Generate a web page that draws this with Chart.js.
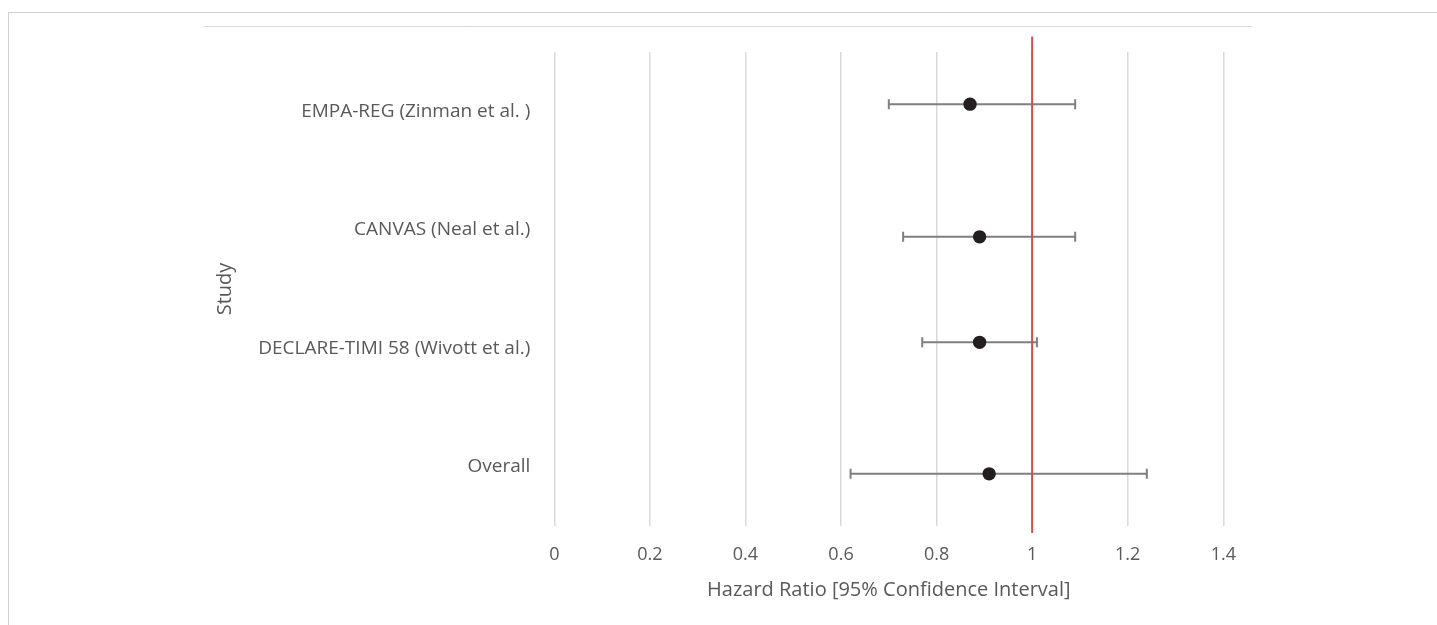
<!DOCTYPE html>
<html>
<head>
<meta charset="utf-8">
<script src="https://cdn.jsdelivr.net/npm/chart.js@4.4.1/dist/chart.umd.min.js"></script>
<style>
  html, body { margin: 0; padding: 0; background: #fff; overflow: hidden; }
  #frame {
    position: absolute; left: 8px; top: 12px;
    width: 1500px; height: 700px;
    border: 1px solid #d0d0d0;
  }
  #wrap { position: absolute; left: 0; top: 0; width: 1437px; height: 625px; }
</style>
</head>
<body>
<div id="frame"></div>
<div id="wrap"><canvas id="forestChart"></canvas></div>
<script>
const studies = ['EMPA-REG (Zinman et al. )', 'CANVAS (Neal et al.)', 'DECLARE-TIMI 58 (Wivott et al.)', 'Overall'];
const hazardRatio = [0.87, 0.89, 0.89, 0.91];
const ciLower = [0.70, 0.73, 0.77, 0.62];
const ciUpper = [1.09, 1.09, 1.01, 1.24];
const rowPos = [3.56, 2.44, 1.55, 0.44];   // vertical position on the hidden value axis
const xTicks = [0, 0.2, 0.4, 0.6, 0.8, 1, 1.2, 1.4];
const refLineX = 1;
const refLineY = [4.13, -0.06];

const textColor = '#595959';
const fontFam = "'Open Sans', 'DejaVu Sans', sans-serif";

// little horizontal rule above the plot, like the one in the excel export
const topRule = {
  id: 'topRule',
  beforeDraw(chart) {
    const { ctx, chartArea } = chart;
    ctx.save();
    ctx.strokeStyle = '#d9d9d9';
    ctx.lineWidth = 1;
    ctx.beginPath();
    ctx.moveTo(chartArea.left - 351, chartArea.top - 25.5);
    ctx.lineTo(chartArea.right + 29, chartArea.top - 25.5);
    ctx.stroke();
    ctx.restore();
  }
};

const errorSets = studies.map((s, i) => ({
  label: s + ' CI',
  data: [{ x: ciLower[i], y: rowPos[i] }, { x: ciUpper[i], y: rowPos[i] }],
  showLine: true,
  yAxisID: 'yv',
  borderColor: '#7f7f7f',
  borderWidth: 2,
  pointStyle: 'line',
  rotation: 90,
  pointRadius: 5,
  pointBorderWidth: 2,
  pointBorderColor: '#7f7f7f',
  pointHoverRadius: 5,
  order: 3
}));

const ctx = document.getElementById('forestChart').getContext('2d');

const chart = new Chart(ctx, {
  type: 'scatter',
  data: {
    datasets: [
      {
        label: 'Hazard Ratio',
        data: hazardRatio.map((v, i) => ({ x: v, y: rowPos[i] })),
        yAxisID: 'yv',
        backgroundColor: '#231f20',
        borderWidth: 0,
        pointRadius: 6.7,
        pointHoverRadius: 6.7,
        order: 1
      },
      {
        label: 'No effect',
        data: refLineY.map(y => ({ x: refLineX, y: y })),
        yAxisID: 'yv',
        showLine: true,
        borderColor: '#c9504c',
        borderWidth: 2,
        pointRadius: 0,
        clip: false,
        order: 2
      },
      ...errorSets
    ]
  },
  options: {
    responsive: true,
    maintainAspectRatio: false,
    animation: false,
    events: [],
    layout: { padding: { left: 209, right: 213.7, top: 52, bottom: 0 } },
    plugins: {
      legend: { display: false },
      tooltip: { enabled: false }
    },
    scales: {
      x: {
        type: 'linear',
        min: 0,
        max: 1.4,
        afterBuildTicks: scale => { scale.ticks = xTicks.map(v => ({ value: v })); },
        afterFit: scale => { scale.height = 99; },
        ticks: {
          color: textColor,
          padding: 18,
          font: { family: fontFam, size: 18 },
          callback: v => String(v)
        },
        grid: { color: '#d9d9d9', lineWidth: 1.5, drawTicks: false },
        border: { display: false },
        title: {
          display: true,
          text: 'Hazard Ratio [95% Confidence Interval]',
          color: textColor,
          font: { family: fontFam, size: 20 },
          padding: { top: 4, bottom: 23 }
        }
      },
      y: {
        type: 'category',
        labels: studies,
        offset: true,
        position: 'left',
        afterFit: scale => { scale.width = 345.3; },
        ticks: {
          color: textColor,
          padding: 24,
          font: { family: fontFam, size: 19 }
        },
        grid: { display: false, drawTicks: false },
        border: { display: false },
        title: {
          display: true,
          text: 'Study',
          color: textColor,
          font: { family: fontFam, size: 20 },
          padding: { top: 4, bottom: 4 }
        }
      },
      yv: {
        type: 'linear',
        display: false,
        min: 0,
        max: 4
      }
    }
  },
  plugins: [topRule]
});
</script>
</body>
</html>
